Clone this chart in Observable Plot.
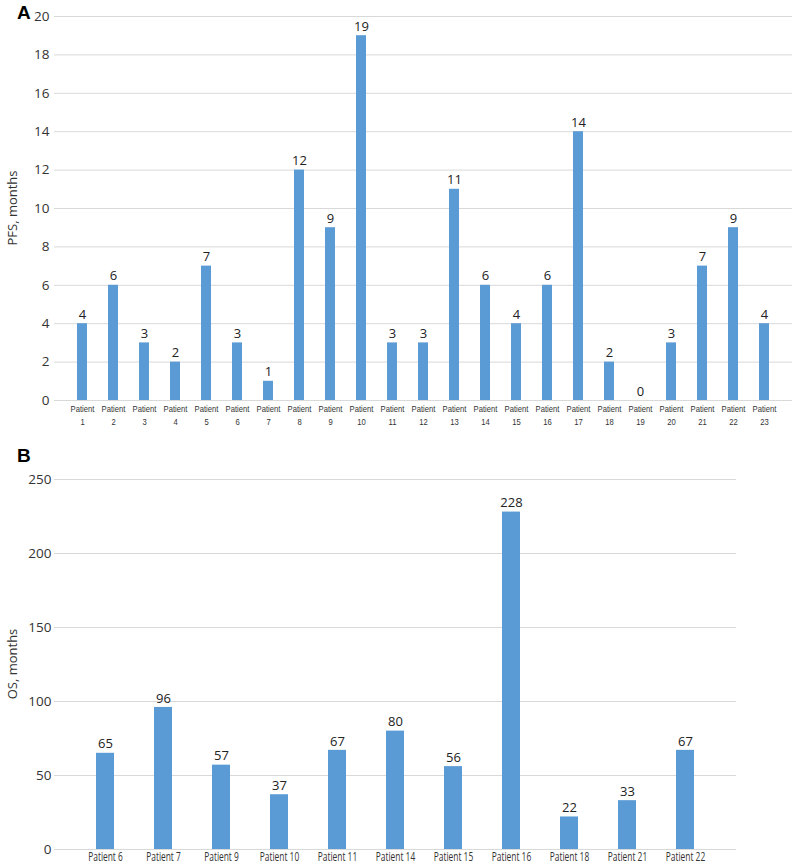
<!DOCTYPE html>
<html>
<head>
<meta charset="utf-8">
<script src="https://cdn.jsdelivr.net/npm/d3@7"></script>
<script src="https://cdn.jsdelivr.net/npm/@observablehq/plot@0.6"></script>
<style>
  html, body { margin: 0; padding: 0; background: #fff; overflow: hidden; }
  #wrap { position: relative; width: 793px; height: 864px; overflow: hidden; }
  .panel { position: absolute; left: 0; }
  .tag { position: absolute; font-family: "Liberation Sans", Arial, sans-serif; font-weight: bold; font-size: 19px; color: #000; }
  .ylab { position: absolute; font-family: "Open Sans", sans-serif; font-size: 13px; color: #333; transform: translate(-50%, -50%) rotate(-90deg); white-space: nowrap; }
</style>
</head>
<body>
<div id="wrap">
  <div class="tag" style="left:17px; top:2px;">A</div>
  <div class="tag" style="left:17px; top:445px;">B</div>
  <div class="ylab" style="left:12px; top:208px;">PFS, months</div>
  <div class="ylab" style="left:12px; top:664px;">OS, months</div>
  <div id="pa" class="panel" style="top:0px;"></div>
  <div id="pb" class="panel" style="top:440px;"></div>
</div>
<script>
// Panel A: progression-free survival
const pfsPatients = ["1","2","3","4","5","6","7","8","9","10","11","12","13","14","15","16","17","18","19","20","21","22","23"];
const pfsValues = [4, 6, 3, 2, 7, 3, 1, 12, 9, 19, 3, 3, 11, 6, 4, 6, 14, 2, 0, 3, 7, 9, 4];
const pfsTicks = [0, 2, 4, 6, 8, 10, 12, 14, 16, 18, 20];

// Panel B: overall survival
const osPatients = ["Patient 6","Patient 7","Patient 9","Patient 10","Patient 11","Patient 14","Patient 15","Patient 16","Patient 18","Patient 21","Patient 22"];
const osValues = [65, 96, 57, 37, 67, 80, 56, 228, 22, 33, 67];
const osTicks = [0, 50, 100, 150, 200, 250];

const barColor = "#5b9bd5";
const gridColor = "#d9d9d9";
const numFont = "'Open Sans', sans-serif";

const pfsData = pfsPatients.map((p, i) => ({patient: p, value: pfsValues[i]}));
const osData = osPatients.map((p, i) => ({patient: p, value: osValues[i]}));

// Slightly condense the category labels horizontally (Calibri-like narrow look)
function styleTicks(chart, xSize, xFont, sx) {
  d3.select(chart).selectAll('g[aria-label="x-axis tick label"] text').each(function() {
    this.style.fontSize = xSize + "px";
    this.style.fontFamily = xFont;
    const t = this.getAttribute("transform") || "";
    this.setAttribute("transform", t + " scale(" + sx + ",1)");
  });
  d3.select(chart).selectAll('g[aria-label="y-axis tick label"] text').each(function() {
    this.style.fontSize = "13.5px";
    this.style.fontFamily = numFont;
  });
}

const chartA = Plot.plot({
  width: 793,
  height: 432,
  marginTop: 16,
  marginBottom: 32,
  marginLeft: 54,
  marginRight: 1,
  style: {background: "transparent", fontFamily: numFont, fontSize: "12.5px", overflow: "visible"},
  x: {domain: pfsPatients, padding: 0.69, align: 0.5},
  y: {domain: [0, 20]},
  marks: [
    Plot.gridY(pfsTicks, {stroke: gridColor, strokeOpacity: 1, strokeWidth: 1}),
    Plot.ruleY([0], {stroke: gridColor, strokeWidth: 1}),
    Plot.barY(pfsData, {x: "patient", y: "value", fill: barColor}),
    Plot.text(pfsData, {x: "patient", y: "value", text: d => String(d.value), dy: -9, fontSize: 13, fill: "#222", fontFamily: numFont}),
    Plot.axisY({ticks: pfsTicks, tickSize: 0, tickPadding: 5, label: null, fill: "#333"}),
    Plot.axisX({tickSize: 0, tickPadding: 3, label: null, lineHeight: 1.4, fill: "#333",
      tickFormat: d => "Patient\n" + d})
  ]
});
styleTicks(chartA, 9, "'Liberation Sans', Arial, sans-serif", 0.85);
document.getElementById("pa").appendChild(chartA);

const chartB = Plot.plot({
  width: 793,
  height: 424,
  marginTop: 39,
  marginBottom: 15,
  marginLeft: 54,
  marginRight: 57,
  style: {background: "transparent", fontFamily: numFont, fontSize: "12.5px", overflow: "visible"},
  x: {domain: osPatients, padding: 0.69, align: 0.5},
  y: {domain: [0, 250]},
  marks: [
    Plot.gridY(osTicks, {stroke: gridColor, strokeOpacity: 1, strokeWidth: 1}),
    Plot.ruleY([0], {stroke: gridColor, strokeWidth: 1}),
    Plot.barY(osData, {x: "patient", y: "value", fill: barColor}),
    Plot.text(osData, {x: "patient", y: "value", text: d => String(d.value), dy: -9, fontSize: 13, fill: "#222", fontFamily: numFont}),
    Plot.axisY({ticks: osTicks, tickSize: 0, tickPadding: 3, label: null, fill: "#333"}),
    Plot.axisX({tickSize: 0, tickPadding: 3, label: null, fill: "#333"})
  ]
});
styleTicks(chartB, 12, numFont, 0.7);
document.getElementById("pb").appendChild(chartB);
</script>
</body>
</html>
